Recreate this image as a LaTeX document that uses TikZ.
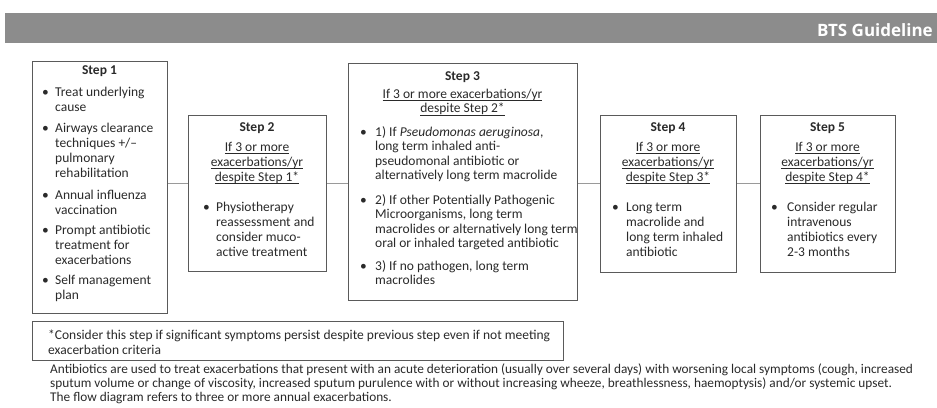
\documentclass[tikz,border=0pt]{standalone}
\usepackage{fontspec}
\setmainfont{Carlito}
\newfontfamily\headfont{Open Sans}
\definecolor{barcol}{HTML}{8C8C8C}
\definecolor{boxcol}{HTML}{5A5A5A}
\definecolor{linecol}{HTML}{9A9A9A}
\definecolor{txtcol}{HTML}{2A2A2A}
\newcommand\bodyfont{\fontsize{13.5}{15}\selectfont}
\newcommand\bl{\textbullet}
\newcommand\uln[1]{\setbox0=\hbox{#1}\dp0=1.2pt\relax$\underline{\box0}$}
\tikzset{
  stepbox/.style={draw=boxcol, line width=1.1pt, anchor=north west, inner sep=0pt},
  conn/.style={draw=linecol, line width=1pt},
  steptitle/.style={anchor=base, inner sep=0pt, text=txtcol, font=\bodyfont\bfseries},
  hdr/.style={anchor=base, inner sep=0pt, text=txtcol, font=\bodyfont},
  blist/.style={anchor=base west, inner sep=0pt, text=txtcol, font=\bodyfont},
}
\begin{document}
\begin{tikzpicture}[x=1pt,y=-1pt]
\useasboundingbox (0,0) rectangle (937,407);
\fill[white] (0,0) rectangle (937,407);
% header bar
\node[fill=barcol, anchor=north west, minimum width=932pt, minimum height=30pt, inner sep=0pt] (bar) at (5,13) {};
\node[anchor=base east, inner sep=0pt, text=white, font=\headfont\bfseries\fontsize{17}{20}\selectfont] (bts) at (933,36) {BTS Guideline};

% boxes
\node[stepbox, minimum width=135pt, minimum height=252pt] (s1) at (32,61) {};
\node[stepbox, minimum width=138pt, minimum height=156pt] (s2) at (188,115) {};
\node[stepbox, minimum width=229pt, minimum height=237pt] (s3) at (348,63) {};
\node[stepbox, minimum width=136pt, minimum height=157pt] (s4) at (600,115) {};
\node[stepbox, minimum width=135pt, minimum height=157pt] (s5) at (760,115) {};
\node[stepbox, minimum width=531pt, minimum height=39pt] (fn) at (32,321) {};

% connectors
\coordinate (cy) at (0,183);
\draw[conn] (s1.east |- cy) -- (s2.west |- cy);
\draw[conn] (s2.east |- cy) -- (s3.west |- cy);
\draw[conn] (s3.east |- cy) -- (s4.west |- cy);
\draw[conn] (s4.east |- cy) -- (s5.west |- cy);

% Step 1
\node[steptitle] (t1) at (99.5,74) {Step 1};
\node[blist] (b1) at (42,96) {\begin{tabular}[t]{@{}p{13pt}@{}l@{}}
\bl & Treat underlying\\ & cause\\[6.5pt]
\bl & Airways clearance\\ & techniques +/--\\ & pulmonary\\ & rehabilitation\\[6.5pt]
\bl & Annual influenza\\ & vaccination\\[5pt]
\bl & Prompt antibiotic\\ & treatment for\\ & exacerbations\\[5.5pt]
\bl & Self management\\ & plan
\end{tabular}};

% Step 2
\node[steptitle] (t2) at (257,131) {Step 2};
\node[hdr] (h2) at (257,151) {\begin{tabular}[t]{@{}c@{}}\uln{If 3 or more}\\ \uln{exacerbations/yr}\\ \uln{despite Step 1*}\end{tabular}};
\node[blist] (b2) at (203,211) {\begin{tabular}[t]{@{}p{13pt}@{}l@{}}
\bl & Physiotherapy\\ & reassessment and\\ & consider muco-\\ & active treatment
\end{tabular}};

% Step 3
\node[steptitle] (t3) at (462.5,80) {Step 3};
\node[hdr] (h3) at (462.5,98) {\fontsize{13.5}{14.5}\selectfont\begin{tabular}[t]{@{}c@{}}\uln{If 3 or more exacerbations/yr}\\ \uln{despite Step 2*}\end{tabular}};
\node[blist] (b3) at (360,136) {\fontsize{13.5}{14.5}\selectfont\begin{tabular}[t]{@{}p{15pt}@{}l@{}}
\bl & 1) If \textit{Pseudomonas aeruginosa},\\ & long term inhaled anti-\\ & pseudomonal antibiotic or\\ & alternatively long term macrolide\\[10pt]
\bl & 2) If other Potentially Pathogenic\\ & Microorganisms, long term\\ & macrolides or alternatively long term\\ & oral or inhaled targeted antibiotic\\[8pt]
\bl & 3) If no pathogen, long term\\ & macrolides
\end{tabular}};

% Step 4
\node[steptitle] (t4) at (668,131) {Step 4};
\node[hdr] (h4) at (668,151) {\begin{tabular}[t]{@{}c@{}}\uln{If 3 or more}\\ \uln{exacerbations/yr}\\ \uln{despite Step 3*}\end{tabular}};
\node[blist] (b4) at (612,211) {\begin{tabular}[t]{@{}p{14pt}@{}l@{}}
\bl & Long term\\ & macrolide and\\ & long term inhaled\\ & antibiotic
\end{tabular}};

% Step 5
\node[steptitle] (t5) at (827.5,131) {Step 5};
\node[hdr] (h5) at (827.5,151) {\begin{tabular}[t]{@{}c@{}}\uln{If 3 or more}\\ \uln{exacerbations/yr}\\ \uln{despite Step 4*}\end{tabular}};
\node[blist] (b5) at (771,211) {\begin{tabular}[t]{@{}p{16pt}@{}l@{}}
\bl & Consider regular\\ & intravenous\\ & antibiotics every\\ & 2-3 months
\end{tabular}};

% footnote
\node[blist] (fnt) at (48,339) {\begin{tabular}[t]{@{}l@{}}
*Consider this step if significant symptoms persist despite previous step even if not meeting\\
exacerbation criteria
\end{tabular}};

% bottom text
\node[blist] (note) at (50,373) {\fontsize{13.3}{14}\selectfont\begin{tabular}[t]{@{}l@{}}
Antibiotics are used to treat exacerbations that present with an acute deterioration (usually over several days) with worsening local symptoms (cough, increased\\
sputum volume or change of viscosity, increased sputum purulence with or without increasing wheeze, breathlessness, haemoptysis) and/or systemic upset.\\
The flow diagram refers to three or more annual exacerbations.
\end{tabular}};
\end{tikzpicture}
\end{document}
